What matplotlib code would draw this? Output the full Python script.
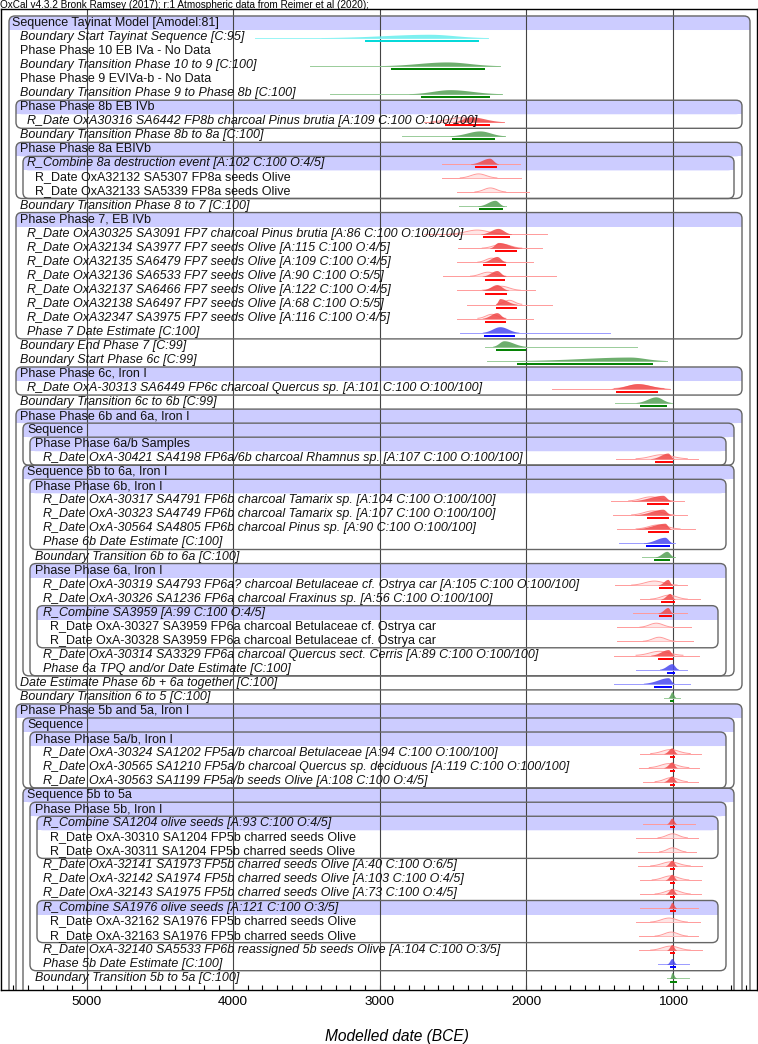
import numpy as np
import matplotlib
matplotlib.use("Agg")
import matplotlib.pyplot as plt
from matplotlib.patches import FancyBboxPatch, Rectangle

plt.rcParams['font.family'] = ['Liberation Sans', 'DejaVu Sans']

title = "OxCal v4.3.2 Bronk Ramsey (2017); r:1 Atmospheric data from Reimer et al (2020);"
xlabel = "Modelled date (BCE)"
tick_years = [5000, 4000, 3000, 2000, 1000]

# --- row labels (top to bottom), indent depth and italic flag ---
labels = [
    "Sequence Tayinat Model [Amodel:81]",
    "Boundary Start Tayinat Sequence [C:95]",
    "Phase Phase 10 EB IVa - No Data",
    "Boundary Transition Phase 10 to 9 [C:100]",
    "Phase Phase 9 EVIVa-b - No Data",
    "Boundary Transition Phase 9 to Phase 8b [C:100]",
    "Phase Phase 8b EB IVb",
    "R_Date OxA30316 SA6442 FP8b charcoal Pinus brutia [A:109 C:100 O:100/100]",
    "Boundary Transition Phase 8b to 8a [C:100]",
    "Phase Phase 8a EBIVb",
    "R_Combine 8a destruction event [A:102 C:100 O:4/5]",
    "R_Date OxA32132 SA5307 FP8a seeds Olive",
    "R_Date OxA32133 SA5339 FP8a seeds Olive",
    "Boundary Transition Phase 8 to 7 [C:100]",
    "Phase Phase 7, EB IVb",
    "R_Date OxA30325 SA3091 FP7 charcoal Pinus brutia [A:86 C:100 O:100/100]",
    "R_Date OxA32134 SA3977 FP7 seeds Olive [A:115 C:100 O:4/5]",
    "R_Date OxA32135 SA6479 FP7 seeds Olive [A:109 C:100 O:4/5]",
    "R_Date OxA32136 SA6533 FP7 seeds Olive [A:90 C:100 O:5/5]",
    "R_Date OxA32137 SA6466 FP7 seeds Olive [A:122 C:100 O:4/5]",
    "R_Date OxA32138 SA6497 FP7 seeds Olive [A:68 C:100 O:5/5]",
    "R_Date OxA32347 SA3975 FP7 seeds Olive [A:116 C:100 O:4/5]",
    "Phase 7 Date Estimate [C:100]",
    "Boundary End Phase 7 [C:99]",
    "Boundary Start Phase 6c [C:99]",
    "Phase Phase 6c, Iron I",
    "R_Date OxA-30313 SA6449 FP6c charcoal Quercus sp. [A:101 C:100 O:100/100]",
    "Boundary Transition 6c to 6b [C:99]",
    "Phase Phase 6b and 6a, Iron I",
    "Sequence",
    "Phase Phase 6a/b Samples",
    "R_Date OxA-30421 SA4198 FP6a/6b charcoal Rhamnus sp. [A:107 C:100 O:100/100]",
    "Sequence 6b to 6a, Iron I",
    "Phase Phase 6b, Iron I",
    "R_Date OxA-30317 SA4791 FP6b charcoal Tamarix sp. [A:104 C:100 O:100/100]",
    "R_Date OxA-30323 SA4749 FP6b charcoal Tamarix sp. [A:107 C:100 O:100/100]",
    "R_Date OxA-30564 SA4805 FP6b charcoal Pinus sp. [A:90 C:100 O:100/100]",
    "Phase 6b Date Estimate [C:100]",
    "Boundary Transition 6b to 6a [C:100]",
    "Phase Phase 6a, Iron I",
    "R_Date OxA-30319 SA4793 FP6a? charcoal Betulaceae cf. Ostrya car [A:105 C:100 O:100/100]",
    "R_Date OxA-30326 SA1236 FP6a charcoal Fraxinus sp. [A:56 C:100 O:100/100]",
    "R_Combine SA3959 [A:99 C:100 O:4/5]",
    "R_Date OxA-30327 SA3959 FP6a charcoal Betulaceae cf. Ostrya car",
    "R_Date OxA-30328 SA3959 FP6a charcoal Betulaceae cf. Ostrya car",
    "R_Date OxA-30314 SA3329 FP6a charcoal Quercus sect. Cerris [A:89 C:100 O:100/100]",
    "Phase 6a TPQ and/or Date Estimate [C:100]",
    "Date Estimate Phase 6b + 6a together [C:100]",
    "Boundary Transition 6 to 5 [C:100]",
    "Phase Phase 5b and 5a, Iron I",
    "Sequence",
    "Phase Phase 5a/b, Iron I",
    "R_Date OxA-30324 SA1202 FP5a/b charcoal Betulaceae [A:94 C:100 O:100/100]",
    "R_Date OxA-30565 SA1210 FP5a/b charcoal Quercus sp. deciduous [A:119 C:100 O:100/100]",
    "R_Date OxA-30563 SA1199 FP5a/b seeds Olive [A:108 C:100 O:4/5]",
    "Sequence 5b to 5a",
    "Phase Phase 5b, Iron I",
    "R_Combine SA1204 olive seeds [A:93 C:100 O:4/5]",
    "R_Date OxA-30310 SA1204 FP5b charred seeds Olive",
    "R_Date OxA-30311 SA1204 FP5b charred seeds Olive",
    "R_Date OxA-32141 SA1973 FP5b charred seeds Olive [A:40 C:100 O:6/5]",
    "R_Date OxA-32142 SA1974 FP5b charred seeds Olive [A:103 C:100 O:4/5]",
    "R_Date OxA-32143 SA1975 FP5b charred seeds Olive [A:73 C:100 O:4/5]",
    "R_Combine SA1976 olive seeds [A:121 C:100 O:3/5]",
    "R_Date OxA-32162 SA1976 FP5b charred seeds Olive",
    "R_Date OxA-32163 SA1976 FP5b charred seeds Olive",
    "R_Date OxA-32140 SA5533 FP6b reassigned 5b seeds Olive [A:104 C:100 O:3/5]",
    "Phase 5b Date Estimate [C:100]",
    "Boundary Transition 5b to 5a [C:100]",
]
depths = [0, 1, 1, 1, 1, 1, 1, 2, 1, 1, 2, 3, 3, 1, 1, 2, 2, 2, 2, 2, 2, 2, 2, 1, 1,
          1, 2, 1, 1, 2, 3, 4, 2, 3, 4, 4, 4, 4, 3, 3, 4, 4, 4, 5, 5, 4, 4, 1, 1, 1,
          2, 3, 4, 4, 4, 2, 3, 4, 5, 5, 4, 4, 4, 4, 5, 5, 4, 4, 3]
italic = [0, 1, 0, 1, 0, 1, 0, 1, 1, 0, 1, 0, 0, 1, 0, 1, 1, 1, 1, 1, 1, 1, 1, 1, 1,
          0, 1, 1, 0, 0, 0, 1, 0, 0, 1, 1, 1, 1, 1, 0, 1, 1, 1, 0, 0, 1, 1, 1, 1, 0,
          0, 0, 1, 1, 1, 0, 0, 1, 0, 0, 1, 1, 1, 1, 0, 0, 1, 1, 1]

# --- nested group boxes: level, first row, last row (rows are 1-based) ---
box_level = [0, 1, 1, 2, 1, 1, 1, 2, 3, 2, 3, 3, 4, 1, 2, 3, 2, 3, 4, 4]
box_first = [1, 7, 10, 11, 15, 26, 29, 30, 31, 33, 34, 40, 43, 50, 51, 52, 56, 57, 58, 64]
box_last = [80, 8, 13, 13, 23, 27, 48, 32, 32, 47, 38, 47, 45, 80, 55, 55, 80, 68, 60, 66]

# --- distributions (years BCE) ---
# kind: c cyan boundary, g boundary, r modelled date, u unmodelled date, b date estimate
dist_rows = [2, 4, 6, 8, 9, 11, 12, 13, 14, 16, 17, 18, 19, 20, 21, 22, 23, 24, 25, 27,
             28, 32, 35, 36, 37, 38, 39, 41, 42, 43, 44, 45, 46, 47, 48, 49, 53, 54, 55,
             58, 59, 60, 61, 62, 63, 64, 65, 66, 67, 68, 69]
dist_kind = ['c', 'g', 'g', 'r', 'g', 'r', 'u', 'u', 'g', 'r', 'r', 'r', 'r', 'r', 'r', 'r',
             'b', 'g', 'g', 'r', 'g', 'r', 'r', 'r', 'r', 'b', 'g', 'r', 'r', 'r', 'u', 'u',
             'r', 'b', 'b', 'g', 'r', 'r', 'r', 'r', 'u', 'u', 'r', 'r', 'r', 'r', 'u', 'u',
             'r', 'b', 'g']
nan = np.nan
thin_old = [3850, 3475, 3340, 2700, 2847, 2573, 2573, 2472, 2459, 2700, 2466, 2472, 2568,
            2472, 2404, 2472, 2452, 2281, 2268, 1825, 1394, 1387, 1421, 1408, 1380, 1367,
            1210, 1394, 1224, 1272, 1380, 1380, 1400, 1250, 1400, 1060, 1220, 1230, 1200,
            1200, 1250, 1240, 1240, 1220, 1220, 1220, 1250, 1230, 1230, 1100, 1040]
thin_young = [2261, 2179, 2166, 2150, 2145, 2040, 2035, 1980, 2138, 1860, 1893, 1953, 1797,
              1940, 1825, 1953, 1427, 1243, 1039, 1019, 1005, 827, 922, 903, 849, 985,
              985, 903, 815, 903, 876, 862, 820, 900, 880, 950, 810, 820, 830,
              850, 830, 840, 800, 810, 810, 830, 815, 830, 800, 890, 890]
post_old = [3400, 3000, 2800, 2500, 2520, 2380, nan, nan, 2330, 2310, 2250, 2300, 2300,
            2300, 2210, 2300, 2300, 2230, 2063, 1420, 1250, 1150, 1280, 1260, 1250, 1200,
            1120, 1100, 1080, 1100, nan, nan, 1150, 1090, 1200, 1030, 1060, 1060, 1060,
            1040, nan, nan, 1050, 1050, 1050, 1030, nan, nan, 1040, 1040, 1020]
peak = [2660, 2541, 2520, 2382, 2316, 2250, nan, nan, 2213, 2192, 2190, 2200, 2200,
        2200, 2180, 2200, 2179, 2152, 1292, 1243, 1115, 1033, 1067, 1067, 1053, 1053,
        1040, 1033, 1019, 1033, nan, nan, 1030, 1005, 1030, 1005, 1005, 1005, 1005,
        1005, nan, nan, 1005, 1005, 1005, 1005, nan, nan, 1005, 1005, 1005]
post_young = [2261, 2179, 2166, 2150, 2145, 2190, nan, nan, 2150, 2100, 2029, 2138, 2138,
              2120, 2063, 2138, 2050, 2000, 1050, 1019, 1010, 990, 1010, 1010, 1010, 1000,
              990, 1000, 985, 1000, nan, nan, 990, 960, 990, 980, 970, 970, 970,
              975, nan, nan, 970, 970, 970, 975, nan, nan, 975, 975, 975]
bar_old = [3100, 2922, 2717, 2555, 2507, 2349, nan, nan, 2322, 2295, 2213, 2295, 2281,
           2281, 2206, 2281, 2288, 2206, 2063, 1388, 1224, 1121, 1176, 1176, 1167, 1183,
           1128, 1094, 1080, 1094, nan, nan, 1100, 1040, 1130, 1019, 1019, 1019, 1019,
           1019, nan, nan, 1019, 1019, 1019, 1019, nan, nan, 1019, 1019, 1019]
bar_young = [2322, 2281, 2246, 2246, 2214, 2200, nan, nan, 2159, 2111, 2063, 2138, 2145,
             2130, 2063, 2138, 2077, 2002, 1135, 1101, 1040, 998, 1026, 1026, 1026, 1019,
             1019, 998, 985, 1005, nan, nan, 1000, 985, 1005, 990, 985, 985, 985,
             985, nan, nan, 985, 985, 985, 975, nan, nan, 985, 980, 970]
lik_old = [nan, nan, nan, 2650, nan, nan, 2450, 2350, nan, 2520, 2300, 2330, 2380,
           2300, 2200, 2330, nan, nan, nan, 1400, nan, 1250, 1300, 1280, 1250, nan,
           nan, 1280, 1150, nan, 1224, 1200, 1250, nan, nan, nan, 1150, 1160, 1120,
           nan, 1100, 1090, 1150, 1140, 1120, nan, 1150, 1120, 1150, nan, nan]
lik_young = [nan, nan, nan, 2250, nan, nan, 2200, 2140, nan, 2150, 2030, 2140, 2140,
             2040, 2030, 2140, nan, nan, nan, 1060, nan, 900, 1000, 990, 950, nan,
             nan, 970, 900, nan, 1000, 985, 930, nan, nan, nan, 880, 890, 900,
             nan, 900, 910, 880, 890, 880, nan, 900, 900, 880, nan, nan]

colors = {
    'c': dict(fill='#66eeee', thin='#99f5f5', bar='#00d8d8'),
    'g': dict(fill='#55a055', thin='#99cc99', bar='#008000'),
    'r': dict(fill='#f04848', thin='#ff9a9a', bar='#ff0000'),
    'u': dict(fill='#f04848', thin='#ff9a9a', bar='#ff0000'),
    'b': dict(fill='#4848f0', thin='#9a9aff', bar='#0000ff'),
}

# --- geometry (pixels of the 758x1044 canvas) ---
W, H = 758, 1044
ax_l, ax_r, ax_t, ax_b = 1, 757, 9, 990
yr_at_5000, px_per_yr = 86.7, 0.1465
x_left_year = 5000 + (yr_at_5000 - ax_l) / px_per_yr
x_right_year = 5000 - (ax_r - yr_at_5000) / px_per_yr
row0_px, row_px = 23.0, 14.04
y_top = 1 + (ax_t - row0_px) / row_px
y_bot = 1 + (ax_b - row0_px) / row_px


def px2yr(px):
    return 5000 - (px - yr_at_5000) / px_per_yr


fig = plt.figure(figsize=(W / 100, H / 100), dpi=100)
ax = fig.add_axes([ax_l / W, 1 - ax_b / H, (ax_r - ax_l) / W, (ax_b - ax_t) / H])
ax.set_xlim(x_left_year, x_right_year)
ax.set_ylim(y_bot, y_top)

# boxes with header bands
r_yr = 6 / px_per_yr
aspect = (6 / row_px) / r_yr
for lev, f, l in zip(box_level, box_first, box_last):
    xl = px2yr(9 + 7 * lev)
    xr = px2yr(750 - 8 * lev)
    w = xl - xr
    head = FancyBboxPatch((xr, f - 0.5), w, 1.0,
                          boxstyle=f"round,pad=0,rounding_size={r_yr}",
                          mutation_aspect=aspect, fc='#ccccff', ec='none', zorder=1)
    ax.add_patch(head)
    ax.add_patch(Rectangle((xr, f), w, 0.5, fc='#ccccff', ec='none', zorder=1))
    box = FancyBboxPatch((xr, f - 0.5), w, l - f + 1,
                         boxstyle=f"round,pad=0,rounding_size={r_yr}",
                         mutation_aspect=aspect, fc='none', ec='#666666', lw=1.0,
                         zorder=2.5)
    ax.add_patch(box)

for yr in tick_years:
    ax.axvline(yr, color='#444444', lw=0.8, zorder=2)


def hump(old, pk, young, n=80):
    xs = np.linspace(young, old, n)
    s_old = max((old - pk) / 2.4, 1.0)
    s_young = max((pk - young) / 2.4, 1.0)
    s = np.where(xs > pk, s_old, s_young)
    return xs, np.exp(-0.5 * ((xs - pk) / s) ** 2)


for i, row in enumerate(dist_rows):
    k = dist_kind[i]
    c = colors[k]
    yc = row + 0.05
    ax.plot([thin_old[i], thin_young[i]], [yc, yc], color=c['thin'], lw=0.7, zorder=3)
    if not np.isnan(lik_old[i]):
        lo, ly = lik_old[i], lik_young[i]
        xs, ys = hump(lo, (lo + ly) / 2, ly)
        h = 0.3
        ax.fill_between(xs, yc, yc - h * ys, color='#ffd6d6', alpha=0.6, lw=0, zorder=3)
        ax.plot(xs, yc - h * ys, color=c['thin'], lw=0.7, zorder=3.1)
    if not np.isnan(post_old[i]):
        span = post_old[i] - post_young[i]
        h = 0.42 * min(1.0, (250 / span) ** 0.35)
        xs, ys = hump(post_old[i], peak[i], post_young[i])
        ax.fill_between(xs, yc, yc - h * ys, color=c['fill'], alpha=0.85, lw=0, zorder=3.2)
        ax.plot([bar_old[i], bar_young[i]], [row + 0.27, row + 0.27], color=c['bar'],
                lw=1.4, solid_capstyle='butt', zorder=3.3)

# row labels
for i, (lab, d, it) in enumerate(zip(labels, depths, italic)):
    x = px2yr(12 + 7.7 * d)
    ax.text(x, i + 1, lab, fontsize=9, style='italic' if it else 'normal',
            va='center', ha='left', zorder=4, color='#111111')

ax.set_xticks(tick_years)
ax.set_xticks(np.arange(5500, 400, -100), minor=True)
ax.set_xticklabels([str(t) for t in tick_years], fontsize=9.7)
ax.tick_params(axis='x', which='both', direction='in', length=3.5, width=0.8, pad=4)
ax.set_yticks([])
for sp in ax.spines.values():
    sp.set_linewidth(1.0)

fig.text(0, 1 - 4.5 / H, title, fontsize=7.2, va='center', ha='left')
fig.text(397 / W, 1 - 1036 / H, xlabel, fontsize=11.2, style='italic',
         ha='center', va='center')

fig.savefig("out.png", dpi=100)
